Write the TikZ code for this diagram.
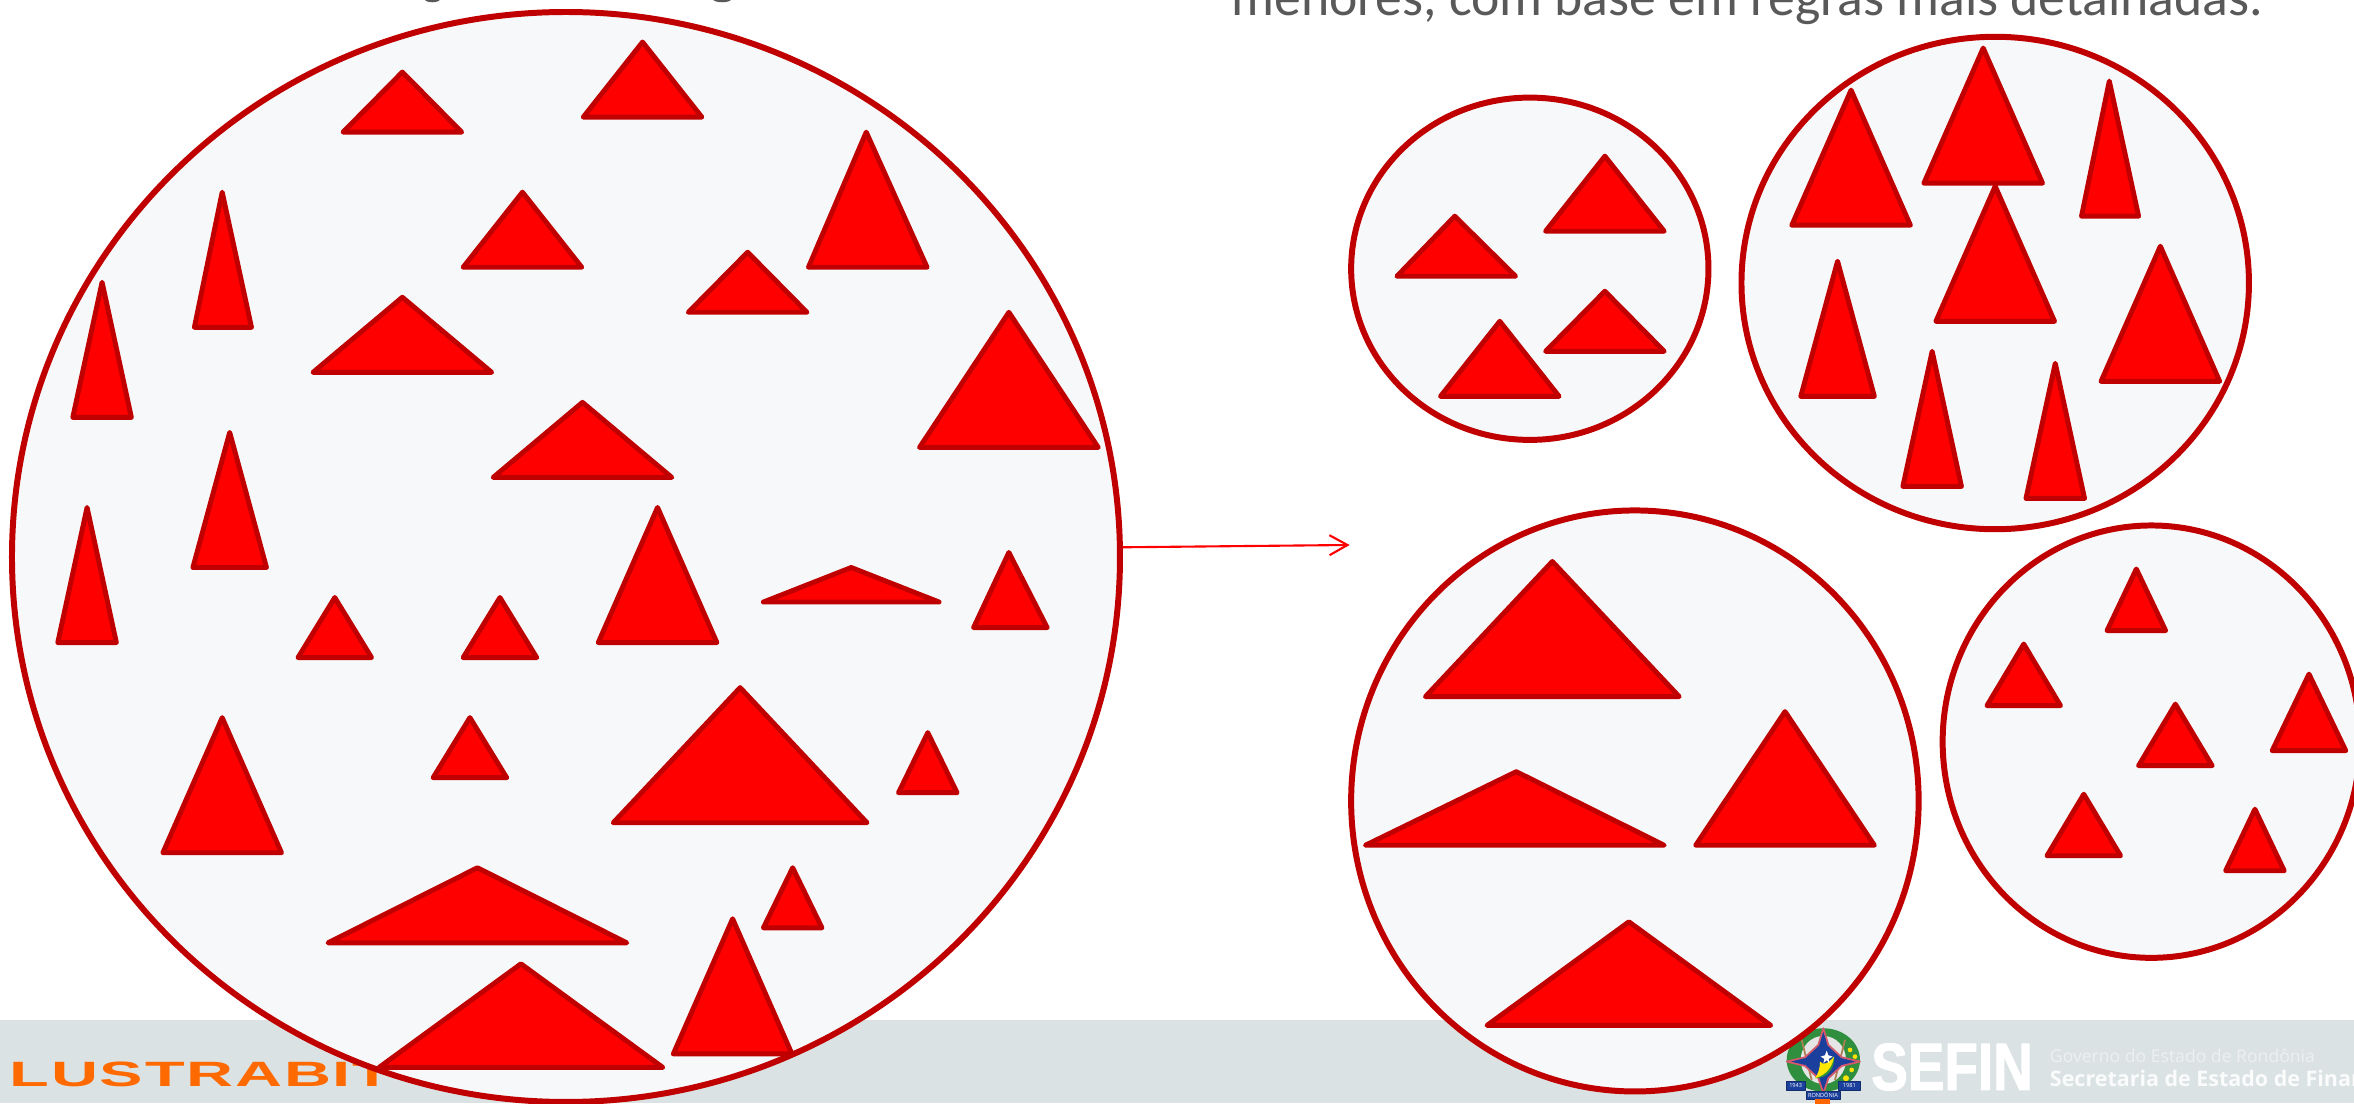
\documentclass[tikz,border=0pt]{standalone}
\usepackage{fontspec}
\setmainfont{Carlito}
\newfontfamily\logofont[FakeStretch=1.85,LetterSpace=5]{Liberation Sans}
\newfontfamily\sefinfont[FakeStretch=0.82,BoldFeatures={FakeBold=1.6}]{Liberation Sans}
\newfontfamily\govfont{Open Sans}
\usetikzlibrary{arrows.meta,shapes.geometric}
\definecolor{ringred}{HTML}{C00000}
\definecolor{ringfill}{HTML}{F7F8FA}
\definecolor{footband}{HTML}{DBE2E4}
\definecolor{logoorange}{HTML}{FF6A00}
\definecolor{titlegray}{HTML}{595959}
\definecolor{crestblue}{HTML}{1B3F9C}
\definecolor{crestgreen}{HTML}{2F8F3E}
\definecolor{crestline}{HTML}{D4596A}
\begin{document}
\begin{tikzpicture}[x=0.015cm, y=-0.015cm, line join=round,
    ring/.style={draw=ringred, fill=ringfill, line width=1.7pt, ellipse, inner sep=0pt},
    tri/.style={draw=ringred, fill=red, line width=1.4pt},
    banner/.style={fill=crestblue, draw=crestblue!70!black, line width=0.2pt},
    bannertext/.style={text=white, font=\govfont\fontsize{1.6}{2}\selectfont, inner sep=0pt}]
    \useasboundingbox (0,0) rectangle (1568,735);

    % faixa do rodape
    \fill[footband] (0,679.5) rectangle (1568,735);
    \node[anchor=base west, inner sep=0pt, text=logoorange, font=\logofont\bfseries\fontsize{10}{12}\selectfont] (lustrabit) at (6,724) {LUSTRABIT};
    \node[anchor=base west, inner sep=0pt, text=white, font=\sefinfont\bfseries\fontsize{19}{22}\selectfont] (sefin) at (1246,726) {SEFIN};
    \node[anchor=base west, inner sep=0pt, text=white!50!footband, font=\govfont\fontsize{5}{6}\selectfont] (governo) at (1365,708) {Governo do Estado de Rondônia};
    \node[anchor=base west, inner sep=0pt, text=white!85!footband, font=\govfont\bfseries\fontsize{6.1}{8}\selectfont] (secretaria) at (1365,724) {Secretaria de Estado de Finan};

    % brasao
    \begin{scope}[shift={(1179,672.7)}, scale=0.222]
        \fill[crestgreen] (160,150) ellipse (110 and 95);
        \fill[white!80!gray] (160,150) ellipse (68 and 72);
        \draw[brown!70!gray, line width=0.5pt] (95,90) -- (125,210) (225,90) -- (195,210);
        \fill[yellow!85!orange] (240,120) circle (7) (255,140) circle (7) (245,180) circle (7) (228,205) circle (9);
        \draw[crestline, fill=crestblue, line width=0.5pt] (160,55) -- (175,105) -- (215,142) -- (270,155) -- (215,168) -- (175,205) -- (160,250) -- (145,205) -- (105,168) -- (50,155) -- (105,142) -- (145,105) -- cycle;
        \fill[crestgreen] (135,205) .. controls (175,205) and (195,175) .. (192,140) .. controls (182,165) and (160,178) .. (135,205) -- cycle;
        \fill[yellow!90!orange] (135,205) .. controls (170,195) and (188,170) .. (192,140) .. controls (175,160) and (160,168) .. (150,155) .. controls (150,175) and (145,190) .. (135,205) -- cycle;
        \fill[white] (170,122) -- (175,136) -- (188,140) -- (176,147) -- (178,160) -- (170,151) -- (160,160) -- (163,147) -- (152,140) -- (165,136) -- cycle;
        \draw[banner] (48,215) rectangle (106,241);
        \draw[banner] (206,215) rectangle (270,241);
        \draw[banner] (108,243) rectangle (210,268);
        \fill[orange!80!red] (135,268) rectangle (180,282);
        \node[bannertext] (anoa) at (77,228) {1943};
        \node[bannertext] (anob) at (238,228) {1981};
        \node[bannertext] (estado) at (159,256) {RONDÔNIA};
    \end{scope}

    % texto do topo
    \node[anchor=base west, inner sep=0pt, text=titlegray, font=\fontsize{15.26}{18}\selectfont] (title) at (820,10) {menores, com base em regras mais detalhadas.};
    \fill[titlegray] (288,-0.5) ellipse (5 and 2);
    \fill[titlegray] (481,-0.5) ellipse (6 and 2);

    % conjunto original
    \node[ring, minimum width=11.07cm, minimum height=10.89cm] (whole) at (377,371) {};
    \draw[tri] (268,48) -- (228.5,88) -- (307.5,88) -- cycle;
    \draw[tri] (428,28) -- (388.5,78) -- (467.5,78) -- cycle;
    \draw[tri] (577,88) -- (538.5,178) -- (617.5,178) -- cycle;
    \draw[tri] (148,128) -- (129.5,218) -- (167.5,218) -- cycle;
    \draw[tri] (348,128) -- (308.5,178) -- (387.5,178) -- cycle;
    \draw[tri] (498,168) -- (458.5,208) -- (537.5,208) -- cycle;
    \draw[tri] (68,188) -- (48.5,278) -- (87.5,278) -- cycle;
    \draw[tri] (268,198) -- (208.5,248) -- (327.5,248) -- cycle;
    \draw[tri] (672,208) -- (612.5,298) -- (731.5,298) -- cycle;
    \draw[tri] (388,268) -- (328.5,318) -- (447.5,318) -- cycle;
    \draw[tri] (153,288) -- (128.5,378) -- (177.5,378) -- cycle;
    \draw[tri] (58,338) -- (38.5,428) -- (77.5,428) -- cycle;
    \draw[tri] (438,338) -- (398.5,428) -- (477.5,428) -- cycle;
    \draw[tri] (567,378) -- (508.5,401) -- (625.5,401) -- cycle;
    \draw[tri] (672,368) -- (648.5,418) -- (697.5,418) -- cycle;
    \draw[tri] (223,398) -- (198.5,438) -- (247.5,438) -- cycle;
    \draw[tri] (333,398) -- (308.5,438) -- (357.5,438) -- cycle;
    \draw[tri] (313,478) -- (288.5,518) -- (337.5,518) -- cycle;
    \draw[tri] (148,478) -- (108.5,568) -- (187.5,568) -- cycle;
    \draw[tri] (493,458) -- (408.5,548) -- (577.5,548) -- cycle;
    \draw[tri] (618,488) -- (598.5,528) -- (637.5,528) -- cycle;
    \draw[tri] (318,578) -- (218.5,628) -- (417.5,628) -- cycle;
    \draw[tri] (528,578) -- (508.5,618) -- (547.5,618) -- cycle;
    \draw[tri] (488,612) -- (448.5,702) -- (527.5,702) -- cycle;
    \draw[tri] (347,642) -- (252.5,711) -- (441.5,711) -- cycle;

    % seta
    \coordinate (arrowend) at (899,363);
    \draw[-{Straight Barb[length=1.8mm,width=2mm]}, red, line width=0.6pt] (whole.1.4) -- (arrowend);

    % grupo pequeno
    \node[ring, minimum width=3.57cm, minimum height=3.42cm] (groupa) at (1019,179) {};
    \draw[tri] (969,144) -- (930.5,184) -- (1009.5,184) -- cycle;
    \draw[tri] (1069,104) -- (1029.5,154) -- (1108.5,154) -- cycle;
    \draw[tri] (1069,194) -- (1029.5,234) -- (1108.5,234) -- cycle;
    \draw[tri] (999,214) -- (959.5,264) -- (1038.5,264) -- cycle;

    % grupo de triangulos altos
    \node[ring, minimum width=5.07cm, minimum height=4.92cm] (groupb) at (1329,188.5) {};
    \draw[tri] (1233,60) -- (1193.5,150) -- (1272.5,150) -- cycle;
    \draw[tri] (1321,32) -- (1281.5,122) -- (1360.5,122) -- cycle;
    \draw[tri] (1405,54) -- (1386.5,144) -- (1424.5,144) -- cycle;
    \draw[tri] (1329,124) -- (1289.5,214) -- (1368.5,214) -- cycle;
    \draw[tri] (1224,174) -- (1199.5,264) -- (1248.5,264) -- cycle;
    \draw[tri] (1439,164) -- (1399.5,254) -- (1478.5,254) -- cycle;
    \draw[tri] (1287,234) -- (1267.5,324) -- (1306.5,324) -- cycle;
    \draw[tri] (1369,242) -- (1349.5,332) -- (1388.5,332) -- cycle;

    % grupo de triangulos grandes
    \node[ring, minimum width=5.67cm, minimum height=5.805cm] (groupc) at (1089,533.5) {};
    \draw[tri] (1034,374) -- (949.5,464) -- (1118.5,464) -- cycle;
    \draw[tri] (1189,474) -- (1129.5,563) -- (1248.5,563) -- cycle;
    \draw[tri] (1010,514) -- (909.5,563) -- (1108.5,563) -- cycle;
    \draw[tri] (1085,614) -- (990.5,683) -- (1179.5,683) -- cycle;

    % grupo de triangulos menores
    \node[ring, minimum width=4.17cm, minimum height=4.32cm] (groupd) at (1433,494) {};
    \draw[tri] (1423,379) -- (1403.5,420) -- (1442.5,420) -- cycle;
    \draw[tri] (1348,429) -- (1323.5,470) -- (1372.5,470) -- cycle;
    \draw[tri] (1449,469) -- (1424.5,510) -- (1473.5,510) -- cycle;
    \draw[tri] (1538,449) -- (1513.5,500) -- (1562.5,500) -- cycle;
    \draw[tri] (1388,529) -- (1363.5,570) -- (1412.5,570) -- cycle;
    \draw[tri] (1502,539) -- (1482.5,580) -- (1521.5,580) -- cycle;
\end{tikzpicture}
\end{document}
